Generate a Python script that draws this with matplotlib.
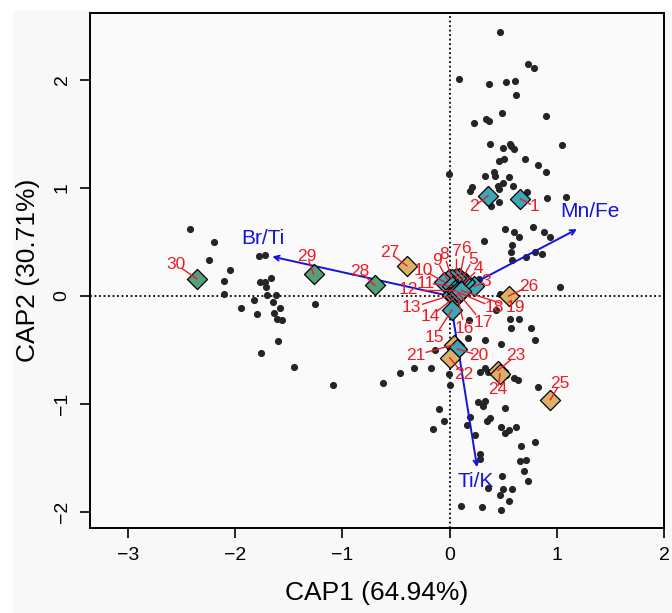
import matplotlib.pyplot as plt
import numpy as np
from matplotlib.patches import Rectangle

plt.rcParams['font.family'] = ['Liberation Sans', 'DejaVu Sans']

# site scores (black dots)
pts_x = [0.47, 0.73, 0.79, 0.09, 0.37, 0.53, 0.61, 0.62, 0.49, 0.90, 0.23, 0.34, 0.37, 0.38, 0.50,
         0.56, 0.57, 0.60, 1.05, 0.46, 0.51, 0.70, 0.82, 0.90, -0.01, 0.33, 0.41, 0.42, 0.55, 0.50,
         0.45, 0.21, 0.19, 0.59, 0.46, 0.72, 0.46, 0.39, 0.91, 1.09, 0.52, 0.60, 0.65, 0.78, 0.88,
         0.94, 0.32, 0.58, 0.57, 0.80, 0.86, 0.71, 0.58, 0.27, 1.03, 0.47,
         0.43, 0.56, 0.65, 0.57, 0.76, 0.33, 0.48, 0.80, 0.33, 0.36, 0.53, 0.60, 0.64, 0.82, 0.18,
         0.17, 0.28,
         -0.14, -0.46, -0.33, -0.17, -0.01, -0.62, 0.00, 0.26, 0.33, 0.31, 0.52, -0.10, -0.05, -0.16,
         0.19, 0.16, 0.38, 0.35, 0.48, 0.55, 0.52, 0.62, 0.24, 0.80, 0.67, 0.28, 0.28, 0.66, 0.71,
         0.69, 0.49, 0.73, 0.50, 0.58, 0.47, 0.36, 0.55, 0.48, 0.11, 0.30,
         -2.42, -2.20, -2.25, -2.05, -2.11, -2.11, -1.78, -1.72, -1.67, -1.77, -1.72, -1.71, -1.70,
         -1.62, -1.83, -1.95, -1.65, -1.58, -1.80, -1.64, -1.61, -1.56, -1.26, -1.60, -1.76, -1.45,
         -1.09]
pts_y = [2.44, 2.15, 2.11, 2.01, 1.96, 1.98, 1.99, 1.86, 1.69, 1.67, 1.60, 1.64, 1.62, 1.41, 1.37,
         1.41, 1.39, 1.36, 1.40, 1.25, 1.27, 1.27, 1.21, 1.15, 1.13, 1.11, 1.15, 1.11, 1.10, 1.05,
         1.02, 1.01, 0.97, 1.02, 0.99, 0.96, 0.87, 0.83, 0.91, 0.92, 0.62, 0.59, 0.55, 0.64, 0.59,
         0.55, 0.51, 0.47, 0.41, 0.41, 0.39, 0.36, 0.33, 0.16, 0.08, 0.02,
         -0.13, -0.21, -0.21, -0.30, -0.30, -0.41, -0.44, -0.41, -0.67, -0.70, -0.73, -0.76, -0.78,
         -0.84, -0.22, -0.39, -0.70,
         -0.50, -0.71, -0.67, -0.67, -0.72, -0.81, -0.82, -0.98, -0.97, -1.02, -1.04, -1.05, -1.16,
         -1.23, -1.12, -1.19, -1.13, -1.16, -1.21, -1.24, -1.27, -1.21, -1.29, -1.35, -1.39, -1.46,
         -1.51, -1.53, -1.52, -1.62, -1.67, -1.71, -1.79, -1.79, -1.84, -1.78, -1.90, -1.98, -1.94,
         -1.95,
         0.62, 0.50, 0.33, 0.24, 0.14, 0.02, 0.37, 0.38, 0.17, 0.13, 0.13, 0.08, 0.01, 0.01, -0.04,
         -0.11, -0.06, -0.11, -0.17, -0.16, -0.21, -0.22, -0.07, -0.42, -0.53, -0.66, -0.82]

# sample centroids 1..30
samp_x = [0.66, 0.36, 0.23, 0.14, 0.11, 0.09, 0.06, 0.02, -0.02, -0.05, 0.02, 0.05, 0.02, 0.05, 0.02,
          0.07, 0.07, 0.09, 0.11, 0.07, 0.04, 0.00, 0.45, 0.47, 0.94, 0.55, -0.40, -0.70, -1.27, -2.36]
samp_y = [0.90, 0.93, 0.09, 0.13, 0.15, 0.17, 0.17, 0.16, 0.15, 0.13, 0.09, 0.06, 0.01, -0.01, -0.13,
          0.01, 0.04, 0.03, 0.05, -0.49, -0.45, -0.57, -0.69, -0.72, -0.96, 0.00, 0.28, 0.10, 0.20, 0.16]
samp_group = ['a'] * 20 + ['b'] * 7 + ['c'] * 3
lab_x = [0.79, 0.23, 0.34, 0.27, 0.22, 0.15, 0.06, -0.05, -0.12, -0.25, -0.22, -0.39, -0.36, -0.18, -0.14,
         0.14, 0.31, 0.42, 0.61, 0.27, -0.32, 0.13, 0.62, 0.45, 1.03, 0.74, -0.56, -0.84, -1.33, -2.55]
lab_y = [0.83, 0.83, 0.13, 0.25, 0.34, 0.44, 0.41, 0.38, 0.33, 0.24, 0.12, 0.06, -0.11, -0.19, -0.38,
         -0.30, -0.25, -0.11, -0.11, -0.55, -0.55, -0.73, -0.55, -0.87, -0.81, 0.09, 0.40, 0.23, 0.37, 0.29]

# environmental vectors
vec_names = ['Mn/Fe', 'Br/Ti', 'Ti/K']
vec_x = [1.21, -1.68, 0.26]
vec_y = [0.63, 0.37, -1.61]
vec_lab_x = [1.31, -1.74, 0.24]
vec_lab_y = [0.78, 0.53, -1.72]

colors = {'a': '#3ea6b6', 'b': '#ddb165', 'c': '#55a07a'}

fig = plt.figure(figsize=(6.72, 6.13), dpi=100, facecolor='#f8f8f8')
fig.patches.append(Rectangle((0, 0), 12 / 672, 1, transform=fig.transFigure, color='white', zorder=-1))
fig.patches.append(Rectangle((0, 1 - 10 / 613), 1, 10 / 613, transform=fig.transFigure, color='white', zorder=-1))
ax = fig.add_axes([90 / 672, 1 - 528 / 613, (664 - 90) / 672, (528 - 13) / 613])
ax.set_facecolor('#fafafa')

ax.axhline(0, color='black', linestyle=(0, (1, 1.5)), linewidth=1.3, zorder=1)
ax.axvline(0, color='black', linestyle=(0, (1, 1.5)), linewidth=1.3, zorder=1)

ax.scatter(pts_x, pts_y, s=17, color='#252525', zorder=2)

for i in range(len(vec_names)):
    ax.annotate('', xy=(vec_x[i], vec_y[i]), xytext=(0, 0),
                arrowprops=dict(arrowstyle='->,head_length=0.35,head_width=0.18', color='#1414d8', lw=1.4),
                zorder=3)
    ax.text(vec_lab_x[i], vec_lab_y[i], vec_names[i], color='#1414d8', fontsize=15,
            ha='center', va='center', zorder=6)

# leader lines then diamonds
for i in range(len(samp_x)):
    dx = lab_x[i] - samp_x[i]
    dy = lab_y[i] - samp_y[i]
    ax.plot([samp_x[i], samp_x[i] + 0.72 * dx], [samp_y[i], samp_y[i] + 0.72 * dy],
            color='#ec1c24', lw=1.0, zorder=5)

order = list(range(19)) + [20, 19] + list(range(21, 30))
for i in order:
    ax.scatter(samp_x[i], samp_y[i], marker='D', s=105, color=colors[samp_group[i]],
               edgecolor='black', linewidth=0.9, zorder=4)

for i in range(len(samp_x)):
    ax.text(lab_x[i], lab_y[i], str(i + 1), color='#ec1c24', fontsize=12.5,
            ha='center', va='center', zorder=6)

ax.set_xlim(-3.356, 2.0)
ax.set_ylim(-2.148, 2.62)
ax.set_xticks([-3, -2, -1, 0, 1, 2])
ax.set_yticks([-2, -1, 0, 1, 2])
ax.tick_params(length=7, width=1.2, labelsize=14, pad=7)
for lbl in ax.get_yticklabels():
    lbl.set_rotation(90)
    lbl.set_va('center')
for sp in ax.spines.values():
    sp.set_linewidth(1.4)

ax.set_xlabel('CAP1 (64.94%)', fontsize=19, labelpad=12)
ax.set_ylabel('CAP2 (30.71%)', fontsize=19, labelpad=10)

plt.savefig('out.png', dpi=100, facecolor=fig.get_facecolor())
